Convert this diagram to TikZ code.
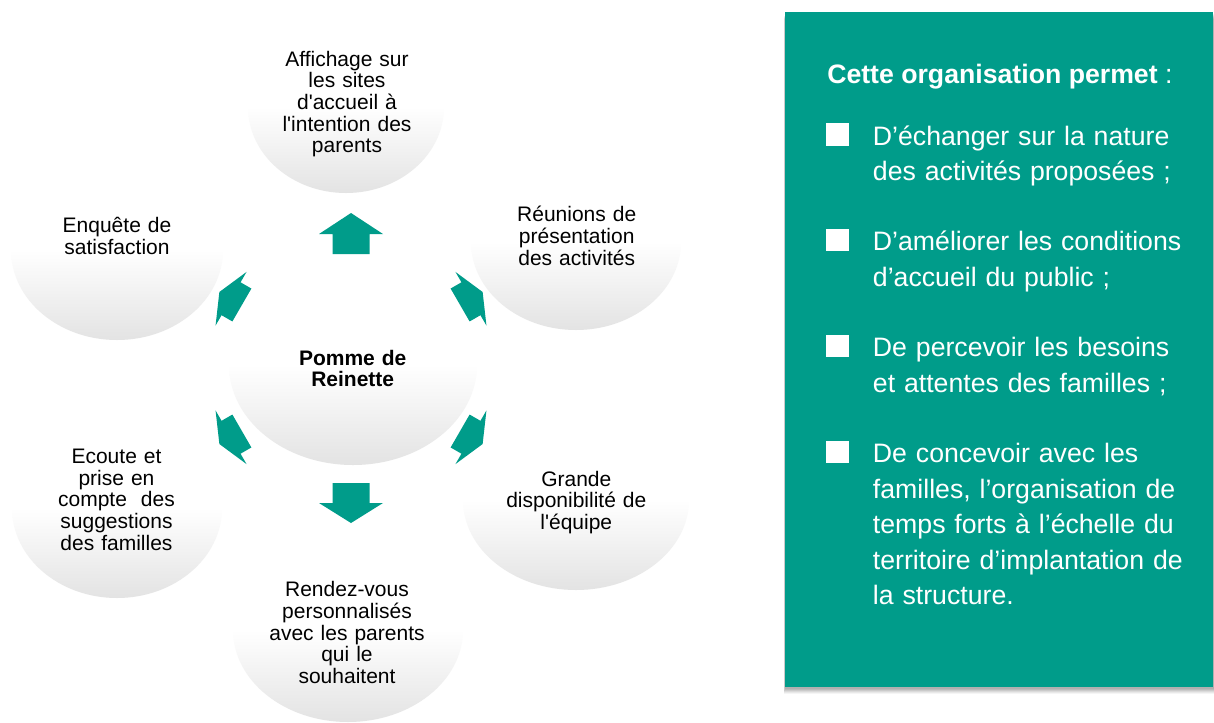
\documentclass[tikz,border=0pt]{standalone}
\usepackage{fontspec}
\setmainfont{Liberation Sans}
\newfontfamily\circfont{Liberation Sans}[Ligatures=TeXOff]
\usetikzlibrary{shapes.geometric}
\definecolor{tealc}{RGB}{0,156,138}
\definecolor{circbot}{RGB}{227,227,227}
\newcommand\myarrow[6]{%
  \fill[arrowfill, shift={(ctr)}, rotate=#1]
    (#2,-#5) -- ({#2+#3},-#5) -- ({#2+#3},-#6) -- ({#2+#3+#4},0)
    -- ({#2+#3},#6) -- ({#2+#3},#5) -- (#2,#5) -- cycle;}
\begin{document}
\begin{tikzpicture}[x=0.75pt,y=-0.75pt,
  bubble/.style={ellipse, inner sep=0pt, outer sep=0pt, draw=none,
    top color=white, bottom color=circbot, middle color=white},
  ctext/.style={font=\circfont\fontsize{15.75pt}{16.3pt}\selectfont,
    text width=140pt, align=center, anchor=base, inner sep=0pt, text=black},
  btext/.style={font=\fontsize{20pt}{26.6pt}\selectfont, text width=260pt,
    align=left, anchor=base west, inner sep=0pt, text=white},
  bsq/.style={fill=white, draw=none, minimum size=17pt, inner sep=0pt,
    anchor=south west},
  arrowfill/.style={fill=tealc, draw=none},
  panel/.style={fill=tealc, draw=none, inner sep=0pt, anchor=north west}
]
\useasboundingbox (0,0) rectangle (1214,722);
\fill[white] (0,0) rectangle (1214,722);
\coordinate (ctr) at (351,368);

% bubbles
\node[bubble, minimum width=248*0.75pt, minimum height=200*0.75pt] (c0) at (353,365) {};
\node[bubble, minimum width=196*0.75pt, minimum height=172*0.75pt] (c1) at (346,107) {};
\node[bubble, minimum width=210*0.75pt, minimum height=176*0.75pt] (c2) at (576,242) {};
\node[bubble, minimum width=226*0.75pt, minimum height=180*0.75pt] (c3) at (576,500) {};
\node[bubble, minimum width=230*0.75pt, minimum height=184*0.75pt] (c4) at (348,630) {};
\node[bubble, minimum width=210*0.75pt, minimum height=180*0.75pt] (c5) at (117,508) {};
\node[bubble, minimum width=212*0.75pt, minimum height=180*0.75pt] (c6) at (117,250) {};

% arrows: angle, tail radius, shaft length, head length, shaft half width, head half width
\myarrow{90}{114}{20}{21}{18.5}{32}
\myarrow{270}{115}{20}{20}{18.5}{32}
\myarrow{30}{126}{12.5}{13.5}{19}{31}
\myarrow{150}{126}{12.5}{13.5}{19}{31}
\myarrow{210}{126}{12.5}{13.5}{19}{31}
\myarrow{330}{126}{12.5}{13.5}{19}{31}

% bubble texts
\node[ctext, font=\circfont\bfseries\fontsize{15.75pt}{16.3pt}\selectfont] (t0) at (352.7,365) {Pomme de\\Reinette};
\node[ctext] (t1) at (347,66) {Affichage sur\\les sites\\d'accueil à\\l'intention des\\parents};
\node[ctext] (t2) at (576.7,221.7) {Réunions de\\présentation\\des activités};
\node[ctext] (t3) at (576.3,486) {Grande\\disponibilité de\\l'équipe};
\node[ctext] (t4) at (347,596.7) {Rendez-vous\\personnalisés\\avec les parents\\qui le\\souhaitent};
\node[ctext] (t5) at (116.5,463.3) {Ecoute et\\prise en\\compte~~des\\suggestions\\des familles};
\node[ctext] (t6) at (117,232.3) {Enquête de\\satisfaction};

% right panel shadow
\foreach \d/\o in {7/0.04,6/0.05,5/0.06,4/0.07,3/0.07,2/0.06} {
  \fill[black, opacity=\o] (785-0.15*\d,12+\d) rectangle (1214,687+\d);
}
\node[panel, minimum width=428*0.75pt, minimum height=675*0.75pt] (panel) at (785,12) {};

\node[anchor=base west, inner sep=0pt, text=white,
  font=\fontsize{20pt}{24pt}\selectfont] (title) at (827,83.3)
  {\textbf{Cette organisation permet} :};

\node[bsq] (s1) at (826,146) {};
\node[bsq] (s2) at (826,251.7) {};
\node[bsq] (s3) at (826,357.7) {};
\node[bsq] (s4) at (826,463.7) {};

\node[btext] (b1) at (872.7,145) {D’échanger sur la nature\\des activités proposées ;};
\node[btext] (b2) at (872.7,250.7) {D’améliorer les conditions\\d’accueil du public ;};
\node[btext] (b3) at (872.7,356.7) {De percevoir les besoins\\et attentes des familles ;};
\node[btext] (b4) at (872.7,462.7) {De concevoir avec les\\familles, l’organisation de\\temps forts à l’échelle du\\territoire d’implantation de\\la structure.};
\end{tikzpicture}
\end{document}
